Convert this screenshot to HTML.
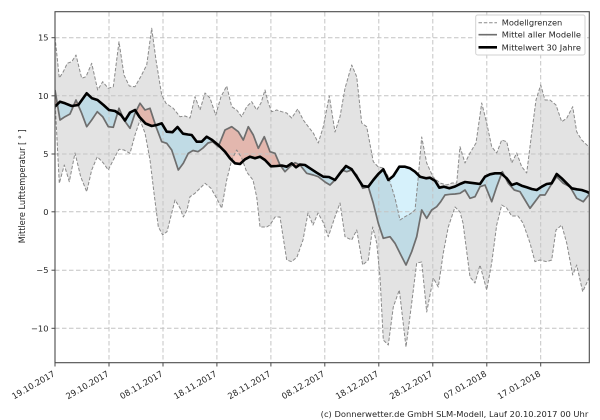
<!DOCTYPE html>
<html>
<head>
<meta charset="utf-8">
<style>
html,body{margin:0;padding:0;background:#fff;width:600px;height:420px;overflow:hidden}
svg{display:block}
</style>
</head>
<body>
<svg width="600" height="420" viewBox="0 0 600 420" xmlns="http://www.w3.org/2000/svg" font-family="'DejaVu Sans','Liberation Sans',sans-serif">
<defs>
<clipPath id="ax"><rect x="55" y="11.7" width="534.3" height="351"/></clipPath>
<clipPath id="aboveL"><polygon points="55,100 59.3,183.3 64.3,165 69.3,181.7 75,153 80.7,176.7 86.7,191.7 91.7,170 97.3,156.7 103.3,163 108.3,170 113.3,160 119,149.3 124,150 130,153.3 135,135 140,120 145,133 150,160 154,193 158.3,226.7 162.7,235 167,231.7 172,212 175,200 180,208 183.3,217 187,210 190,196.7 195,193.3 200,188.3 205,183.3 211,188.3 216.7,198.3 221.7,208.3 226.7,180 231.7,160 236.7,150 241.7,158 246.7,172 253,180 256.7,197 260,227 266.7,227 270,225 275,217 280,217 286.7,260 291.7,261.7 297,257 303,240 308,213 313,225 318,213 323,222 328.3,236.7 335,216.7 340,203 345,236.7 351.7,240 356.7,230 362.7,265 368.3,260 372.7,227 376.7,243 380,277 383.3,340 388.3,345 393.3,307 399.3,290 406,347 411.7,303 416.7,263 421.7,262 426.7,312 433.3,278 438.3,287 443.3,253 448.3,227 455,207 460,212 463,223 470,277 475,283 480,265 486.7,290 491.7,263 496.7,225 501.7,205 506.7,208 511.7,216 518,216 523,223 530,243 535,261.7 540,260 546.7,261.7 551.7,260 556,230 561.7,225 566.7,243 572.7,275 576.7,265 582.7,291.7 589,278 590,278 590,5 55,5"/></clipPath>
<clipPath id="belowB"><polygon points="55,106.5 60,101.7 65,103.3 71.7,106 78.3,105 86.7,93.3 92,98.3 97.5,100 103.5,105 109,110 115,111 121,115 125,120.5 130,112.5 135,110 139.5,117 145.5,123.5 151.7,126 156.7,125 161.7,123.3 166.7,131.7 172.5,132.2 177.5,127 183,133.7 188,134.5 191.7,135 196.7,141.7 201.7,141.7 206.7,136.7 211.7,139.7 218.3,145 225,151.7 230,158.3 235,163.3 240,164 245,159.3 250,156.7 255,158.3 260,156.7 265,160 271,166.3 276.7,166 281.7,165.5 286.7,166.7 291.7,163.3 296,167.3 300,164.5 305,165 310,168.3 316.7,172.7 323.3,176.7 329,177 335,180 340,173.3 346,166 351.7,169.3 356.7,176.7 362.7,186 368.3,186.7 373.3,180 378.3,174 383.3,169.3 388.3,180 393.3,176 399.3,166.7 405,166.7 410,168.3 415,171.7 420,176.7 426,178.3 430,177.7 435,180.7 439.3,187.7 444,186.7 449.3,188.3 455,186.5 460,184 465,182 470,182.7 475,183.3 480,184 485,176.7 490,174.3 495,173.3 501,173.3 506.7,178.3 511.7,185 516.7,183.3 521.7,185.7 526.7,187.3 531.7,189 536.7,190 541.7,186.7 546.7,184 551.7,183.3 556.7,174 561.7,178.3 566.7,183.3 571.7,188.3 576.7,189.3 581.7,190 586.7,191.7 590,193.3 590,370 55,370"/></clipPath>
<clipPath id="aboveB"><polygon points="55,106.5 60,101.7 65,103.3 71.7,106 78.3,105 86.7,93.3 92,98.3 97.5,100 103.5,105 109,110 115,111 121,115 125,120.5 130,112.5 135,110 139.5,117 145.5,123.5 151.7,126 156.7,125 161.7,123.3 166.7,131.7 172.5,132.2 177.5,127 183,133.7 188,134.5 191.7,135 196.7,141.7 201.7,141.7 206.7,136.7 211.7,139.7 218.3,145 225,151.7 230,158.3 235,163.3 240,164 245,159.3 250,156.7 255,158.3 260,156.7 265,160 271,166.3 276.7,166 281.7,165.5 286.7,166.7 291.7,163.3 296,167.3 300,164.5 305,165 310,168.3 316.7,172.7 323.3,176.7 329,177 335,180 340,173.3 346,166 351.7,169.3 356.7,176.7 362.7,186 368.3,186.7 373.3,180 378.3,174 383.3,169.3 388.3,180 393.3,176 399.3,166.7 405,166.7 410,168.3 415,171.7 420,176.7 426,178.3 430,177.7 435,180.7 439.3,187.7 444,186.7 449.3,188.3 455,186.5 460,184 465,182 470,182.7 475,183.3 480,184 485,176.7 490,174.3 495,173.3 501,173.3 506.7,178.3 511.7,185 516.7,183.3 521.7,185.7 526.7,187.3 531.7,189 536.7,190 541.7,186.7 546.7,184 551.7,183.3 556.7,174 561.7,178.3 566.7,183.3 571.7,188.3 576.7,189.3 581.7,190 586.7,191.7 590,193.3 590,5 55,5"/></clipPath>
</defs>

<g clip-path="url(#ax)">
  <g clip-path="url(#aboveL)">
    <polygon fill="#e3e3e3" points="55,37 59.3,78 63.3,71.7 67.3,63.3 71.7,61.7 76,55 81.7,78.3 86,76.7 91.7,63.3 97.7,90 102.7,81.7 108.3,88.3 113.3,86.7 119,41.7 124,75 129.3,86 135,86.7 140.7,76.7 146.7,65 151.7,28.3 156,60 161.7,95 166,103.3 173.3,108.3 180,116.7 185,116 190,118 195,96.7 200,110 205,93 210,98 215.7,115 221,96.7 226.7,86 231.7,106.7 236.7,110 241.7,116.7 246.7,106.7 251.7,101.7 256.7,110 261,103 265,90 268.3,103 271.7,111.7 276.7,110 281.7,111.7 286.7,113 291.7,118 297.7,109 303.3,120 308.3,126.7 313.3,133 318.3,143 323.3,126.7 329.3,96 335,132 340,116.7 345,88.3 351.7,65 356.7,76.7 361.7,123 366.7,126.7 373.3,161.7 378.3,167 383.3,168 388,176 391,185 395,198 400,220 405,216.7 410,214 415,210 418,180 421.7,137 426.7,163 433,177 440,183 446.7,185 452,183 456.7,183 460,146.7 465,163 470,153 476,143 481.7,103 486.7,123 491.7,146.7 496.7,153 501.7,140 506.7,141.7 511.7,163 516.7,153 521.7,166.7 526.7,173 531.7,133 536,100 540.7,85 545,100 550,100 556,105 561.7,121.7 566.7,118.3 572.7,106.7 576.7,131.7 581.7,140 589,147 590,147 590,370 55,370"/>
  </g>
  <g clip-path="url(#belowB)">
    <polygon fill="rgba(70,190,235,0.22)" points="55,90 60,120 65,116.7 70,114 76,100 81.7,113.3 86.7,126.7 91.7,120 97.3,111.7 102.7,116.7 108.3,126.7 113.3,127.3 119,108.3 124,120 130,128.3 135,113.3 140,103.3 145,110 150,108.3 156,126.7 161.7,141.7 166.7,143.3 171.7,150 178.3,170 183.3,163.3 188.3,153.3 193,150.5 198,151.7 203,148 208,143 212.7,141.7 218.3,146.7 225,130 231.7,126.7 238.3,131.7 243.3,140 248.3,126.7 253.3,135 258.3,148.3 264.3,136.7 270,151.7 275,153.3 280,165 285,171.7 290,166.7 295,162.7 300,165 306.7,173.3 313.3,175 318.3,176.7 325,182 330,185 335,180 341.7,170 346.7,171.7 351.7,170 356.7,175 362.7,188.3 368.3,186.7 373.3,203.3 378.3,223.3 383.3,238.3 390,236.7 395,243.3 400,253.3 406,265 411.7,251.7 416.7,236.7 421.7,210 426.7,218.3 431.7,210 436.7,206.7 440.7,201.7 445,195 450,194.3 455,194 460,193.3 465,190 470,198.3 475,196.7 480,186.7 485,185 491.7,201.7 496.7,186.7 502.3,171.7 508.3,183.3 514.3,190 520,191.7 525,200 530,208.3 535,201.7 540,195 545,195 551,185 556.7,176.7 563.3,183.3 570,186.7 576.7,198.3 583.3,201.7 590,193.3 590,5 55,5"/>
  </g>
  <g clip-path="url(#aboveB)">
    <polygon fill="rgba(225,100,75,0.35)" points="55,90 60,120 65,116.7 70,114 76,100 81.7,113.3 86.7,126.7 91.7,120 97.3,111.7 102.7,116.7 108.3,126.7 113.3,127.3 119,108.3 124,120 130,128.3 135,113.3 140,103.3 145,110 150,108.3 156,126.7 161.7,141.7 166.7,143.3 171.7,150 178.3,170 183.3,163.3 188.3,153.3 193,150.5 198,151.7 203,148 208,143 212.7,141.7 218.3,146.7 225,130 231.7,126.7 238.3,131.7 243.3,140 248.3,126.7 253.3,135 258.3,148.3 264.3,136.7 270,151.7 275,153.3 280,165 285,171.7 290,166.7 295,162.7 300,165 306.7,173.3 313.3,175 318.3,176.7 325,182 330,185 335,180 341.7,170 346.7,171.7 351.7,170 356.7,175 362.7,188.3 368.3,186.7 373.3,203.3 378.3,223.3 383.3,238.3 390,236.7 395,243.3 400,253.3 406,265 411.7,251.7 416.7,236.7 421.7,210 426.7,218.3 431.7,210 436.7,206.7 440.7,201.7 445,195 450,194.3 455,194 460,193.3 465,190 470,198.3 475,196.7 480,186.7 485,185 491.7,201.7 496.7,186.7 502.3,171.7 508.3,183.3 514.3,190 520,191.7 525,200 530,208.3 535,201.7 540,195 545,195 551,185 556.7,176.7 563.3,183.3 570,186.7 576.7,198.3 583.3,201.7 590,193.3 590,370 55,370"/>
  </g>

  <g stroke="#c4c4c4" stroke-width="1" stroke-dasharray="4.5,2.5" fill="none">
    <line x1="109" y1="12" x2="109" y2="363"/>
    <line x1="163" y1="12" x2="163" y2="363"/>
    <line x1="216.9" y1="12" x2="216.9" y2="363"/>
    <line x1="270.9" y1="12" x2="270.9" y2="363"/>
    <line x1="324.8" y1="12" x2="324.8" y2="363"/>
    <line x1="378.8" y1="12" x2="378.8" y2="363"/>
    <line x1="432.8" y1="12" x2="432.8" y2="363"/>
    <line x1="486.8" y1="12" x2="486.8" y2="363"/>
    <line x1="540.7" y1="12" x2="540.7" y2="363"/>
    <line x1="55" y1="37.7" x2="589" y2="37.7"/>
    <line x1="55" y1="95.8" x2="589" y2="95.8"/>
    <line x1="55" y1="154" x2="589" y2="154"/>
    <line x1="55" y1="211.8" x2="589" y2="211.8"/>
    <line x1="55" y1="270.2" x2="589" y2="270.2"/>
    <line x1="55" y1="328.3" x2="589" y2="328.3"/>
  </g>

  <g fill="none" stroke="#8a8a8a" stroke-width="1" stroke-dasharray="3.5,1.8" stroke-linejoin="round">
    <polyline points="55,37 59.3,78 63.3,71.7 67.3,63.3 71.7,61.7 76,55 81.7,78.3 86,76.7 91.7,63.3 97.7,90 102.7,81.7 108.3,88.3 113.3,86.7 119,41.7 124,75 129.3,86 135,86.7 140.7,76.7 146.7,65 151.7,28.3 156,60 161.7,95 166,103.3 173.3,108.3 180,116.7 185,116 190,118 195,96.7 200,110 205,93 210,98 215.7,115 221,96.7 226.7,86 231.7,106.7 236.7,110 241.7,116.7 246.7,106.7 251.7,101.7 256.7,110 261,103 265,90 268.3,103 271.7,111.7 276.7,110 281.7,111.7 286.7,113 291.7,118 297.7,109 303.3,120 308.3,126.7 313.3,133 318.3,143 323.3,126.7 329.3,96 335,132 340,116.7 345,88.3 351.7,65 356.7,76.7 361.7,123 366.7,126.7 373.3,161.7 378.3,167 383.3,168 388,176 391,185 395,198 400,220 405,216.7 410,214 415,210 418,180 421.7,137 426.7,163 433,177 440,183 446.7,185 452,183 456.7,183 460,146.7 465,163 470,153 476,143 481.7,103 486.7,123 491.7,146.7 496.7,153 501.7,140 506.7,141.7 511.7,163 516.7,153 521.7,166.7 526.7,173 531.7,133 536,100 540.7,85 545,100 550,100 556,105 561.7,121.7 566.7,118.3 572.7,106.7 576.7,131.7 581.7,140 589,147"/>
    <polyline points="55,100 59.3,183.3 64.3,165 69.3,181.7 75,153 80.7,176.7 86.7,191.7 91.7,170 97.3,156.7 103.3,163 108.3,170 113.3,160 119,149.3 124,150 130,153.3 135,135 140,120 145,133 150,160 154,193 158.3,226.7 162.7,235 167,231.7 172,212 175,200 180,208 183.3,217 187,210 190,196.7 195,193.3 200,188.3 205,183.3 211,188.3 216.7,198.3 221.7,208.3 226.7,180 231.7,160 236.7,150 241.7,158 246.7,172 253,180 256.7,197 260,227 266.7,227 270,225 275,217 280,217 286.7,260 291.7,261.7 297,257 303,240 308,213 313,225 318,213 323,222 328.3,236.7 335,216.7 340,203 345,236.7 351.7,240 356.7,230 362.7,265 368.3,260 372.7,227 376.7,243 380,277 383.3,340 388.3,345 393.3,307 399.3,290 406,347 411.7,303 416.7,263 421.7,262 426.7,312 433.3,278 438.3,287 443.3,253 448.3,227 455,207 460,212 463,223 470,277 475,283 480,265 486.7,290 491.7,263 496.7,225 501.7,205 506.7,208 511.7,216 518,216 523,223 530,243 535,261.7 540,260 546.7,261.7 551.7,260 556,230 561.7,225 566.7,243 572.7,275 576.7,265 582.7,291.7 589,278"/>
  </g>

  <polyline fill="none" stroke="#6e6e6e" stroke-width="1.7" stroke-linejoin="round" points="55,90 60,120 65,116.7 70,114 76,100 81.7,113.3 86.7,126.7 91.7,120 97.3,111.7 102.7,116.7 108.3,126.7 113.3,127.3 119,108.3 124,120 130,128.3 135,113.3 140,103.3 145,110 150,108.3 156,126.7 161.7,141.7 166.7,143.3 171.7,150 178.3,170 183.3,163.3 188.3,153.3 193,150.5 198,151.7 203,148 208,143 212.7,141.7 218.3,146.7 225,130 231.7,126.7 238.3,131.7 243.3,140 248.3,126.7 253.3,135 258.3,148.3 264.3,136.7 270,151.7 275,153.3 280,165 285,171.7 290,166.7 295,162.7 300,165 306.7,173.3 313.3,175 318.3,176.7 325,182 330,185 335,180 341.7,170 346.7,171.7 351.7,170 356.7,175 362.7,188.3 368.3,186.7 373.3,203.3 378.3,223.3 383.3,238.3 390,236.7 395,243.3 400,253.3 406,265 411.7,251.7 416.7,236.7 421.7,210 426.7,218.3 431.7,210 436.7,206.7 440.7,201.7 445,195 450,194.3 455,194 460,193.3 465,190 470,198.3 475,196.7 480,186.7 485,185 491.7,201.7 496.7,186.7 502.3,171.7 508.3,183.3 514.3,190 520,191.7 525,200 530,208.3 535,201.7 540,195 545,195 551,185 556.7,176.7 563.3,183.3 570,186.7 576.7,198.3 583.3,201.7 590,193.3"/>

  <polyline fill="none" stroke="#000" stroke-width="2.6" stroke-linejoin="round" points="55,106.5 60,101.7 65,103.3 71.7,106 78.3,105 86.7,93.3 92,98.3 97.5,100 103.5,105 109,110 115,111 121,115 125,120.5 130,112.5 135,110 139.5,117 145.5,123.5 151.7,126 156.7,125 161.7,123.3 166.7,131.7 172.5,132.2 177.5,127 183,133.7 188,134.5 191.7,135 196.7,141.7 201.7,141.7 206.7,136.7 211.7,139.7 218.3,145 225,151.7 230,158.3 235,163.3 240,164 245,159.3 250,156.7 255,158.3 260,156.7 265,160 271,166.3 276.7,166 281.7,165.5 286.7,166.7 291.7,163.3 296,167.3 300,164.5 305,165 310,168.3 316.7,172.7 323.3,176.7 329,177 335,180 340,173.3 346,166 351.7,169.3 356.7,176.7 362.7,186 368.3,186.7 373.3,180 378.3,174 383.3,169.3 388.3,180 393.3,176 399.3,166.7 405,166.7 410,168.3 415,171.7 420,176.7 426,178.3 430,177.7 435,180.7 439.3,187.7 444,186.7 449.3,188.3 455,186.5 460,184 465,182 470,182.7 475,183.3 480,184 485,176.7 490,174.3 495,173.3 501,173.3 506.7,178.3 511.7,185 516.7,183.3 521.7,185.7 526.7,187.3 531.7,189 536.7,190 541.7,186.7 546.7,184 551.7,183.3 556.7,174 561.7,178.3 566.7,183.3 571.7,188.3 576.7,189.3 581.7,190 586.7,191.7 590,193.3"/>
</g>

<rect x="55" y="11.7" width="534.3" height="351" fill="none" stroke="#4a4a4a" stroke-width="1.1"/>

<g stroke="#4a4a4a" stroke-width="1">
  <line x1="51.5" y1="37.7" x2="55" y2="37.7"/>
  <line x1="51.5" y1="95.8" x2="55" y2="95.8"/>
  <line x1="51.5" y1="154" x2="55" y2="154"/>
  <line x1="51.5" y1="211.8" x2="55" y2="211.8"/>
  <line x1="51.5" y1="270.2" x2="55" y2="270.2"/>
  <line x1="51.5" y1="328.3" x2="55" y2="328.3"/>
  <line x1="55" y1="362.7" x2="55" y2="366.5"/>
  <line x1="109" y1="362.7" x2="109" y2="366.5"/>
  <line x1="163" y1="362.7" x2="163" y2="366.5"/>
  <line x1="216.9" y1="362.7" x2="216.9" y2="366.5"/>
  <line x1="270.9" y1="362.7" x2="270.9" y2="366.5"/>
  <line x1="324.8" y1="362.7" x2="324.8" y2="366.5"/>
  <line x1="378.8" y1="362.7" x2="378.8" y2="366.5"/>
  <line x1="432.8" y1="362.7" x2="432.8" y2="366.5"/>
  <line x1="486.8" y1="362.7" x2="486.8" y2="366.5"/>
  <line x1="540.7" y1="362.7" x2="540.7" y2="366.5"/>
</g>

<g font-size="8.3" fill="#262626" text-anchor="end">
  <text x="48.5" y="40.7">15</text>
  <text x="48.5" y="98.8">10</text>
  <text x="48.5" y="157">5</text>
  <text x="48.5" y="214.8">0</text>
  <text x="48.5" y="273.2">−5</text>
  <text x="48.5" y="331.3">−10</text>
</g>

<g font-size="8.4" fill="#262626" text-anchor="end">
  <text transform="translate(55.5,375.5) rotate(-30)">19.10.2017</text>
  <text transform="translate(109.5,375.5) rotate(-30)">29.10.2017</text>
  <text transform="translate(163.5,375.5) rotate(-30)">08.11.2017</text>
  <text transform="translate(217.4,375.5) rotate(-30)">18.11.2017</text>
  <text transform="translate(271.4,375.5) rotate(-30)">28.11.2017</text>
  <text transform="translate(325.3,375.5) rotate(-30)">08.12.2017</text>
  <text transform="translate(379.3,375.5) rotate(-30)">18.12.2017</text>
  <text transform="translate(433.3,375.5) rotate(-30)">28.12.2017</text>
  <text transform="translate(487.3,375.5) rotate(-30)">07.01.2018</text>
  <text transform="translate(541.2,375.5) rotate(-30)">17.01.2018</text>
</g>

<text transform="translate(24.8,186.3) rotate(-90)" text-anchor="middle" font-size="8.4" fill="#262626" textLength="114" lengthAdjust="spacingAndGlyphs">Mittlere Lufttemperatur [ ° ]</text>

<rect x="475.7" y="15" width="109.3" height="40" rx="2" ry="2" fill="#fff" fill-opacity="0.9" stroke="#d2d2d2" stroke-width="1"/>
<line x1="478.5" y1="22.7" x2="497" y2="22.7" stroke="#8a8a8a" stroke-width="1" stroke-dasharray="3.5,1.8"/>
<line x1="478.5" y1="34.7" x2="497" y2="34.7" stroke="#6e6e6e" stroke-width="1.7"/>
<line x1="478.5" y1="47.3" x2="497" y2="47.3" stroke="#000" stroke-width="2.6"/>
<g font-size="8.3" fill="#262626">
  <text x="501.7" y="25.7" textLength="60.6" lengthAdjust="spacingAndGlyphs">Modellgrenzen</text>
  <text x="501.7" y="37.7" textLength="79.3" lengthAdjust="spacingAndGlyphs">Mittel aller Modelle</text>
  <text x="501.7" y="50.3" textLength="79.3" lengthAdjust="spacingAndGlyphs">Mittelwert 30 Jahre</text>
</g>

<text x="588.3" y="417" text-anchor="end" font-size="8.3" fill="#262626" textLength="267.6" lengthAdjust="spacingAndGlyphs">(c) Donnerwetter.de GmbH SLM-Modell, Lauf 20.10.2017 00 Uhr</text>
</svg>
</body>
</html>
